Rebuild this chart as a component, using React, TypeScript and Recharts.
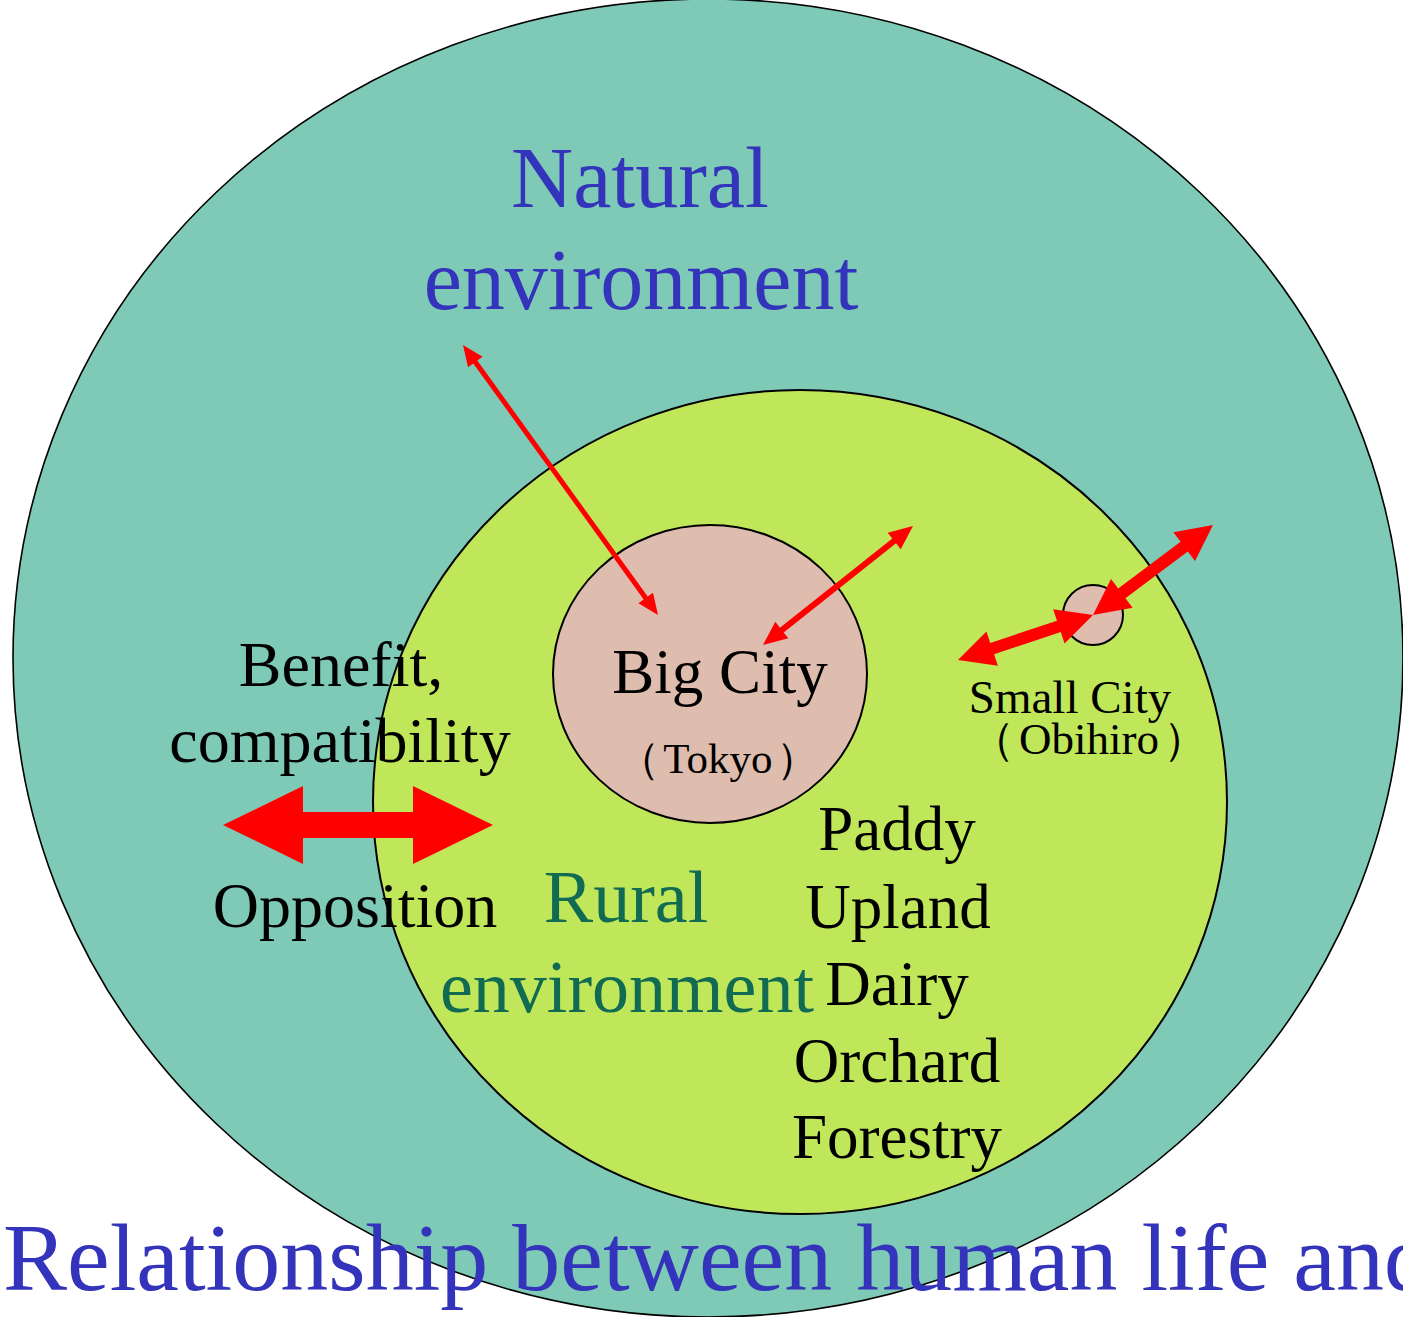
import React from 'react';
import { ScatterChart, Scatter, XAxis, YAxis, ReferenceArea, ReferenceLine } from 'recharts';

const WIDTH = 1403;
const HEIGHT = 1317;

// Regions (ellipses) in diagram coordinates: centre and radii
const regions = [
  { name: 'Natural environment', cx: 708, cy: 658, rx: 695, ry: 659 },
  { name: 'Rural environment', cx: 800, cy: 802, rx: 427, ry: 412 },
  { name: 'Big City', cx: 710, cy: 674, rx: 157, ry: 149 },
  { name: 'Small City', cx: 1093, cy: 615, rx: 30, ry: 30 },
];
const regionFills = ['#7FCAB7', '#C0E65A', '#DEBCAE', '#DEBCAE'];
const regionStrokeWidths = [1.6, 2, 2, 2];

// Double-headed arrows: end points
const arrows = [
  { name: 'nature-bigcity', x1: 463, y1: 345, x2: 658, y2: 615 },
  { name: 'bigcity-out', x1: 763, y1: 645, x2: 913, y2: 526 },
  { name: 'smallcity-rural', x1: 958, y1: 660, x2: 1093, y2: 615 },
  { name: 'smallcity-out', x1: 1093, y1: 615, x2: 1213, y2: 525 },
  { name: 'opposition', x1: 223, y1: 825, x2: 493, y2: 825 },
];
// shaft width, head length, head width per arrow
const arrowStyles = [
  { shaft: 5, headLen: 21, headW: 18 },
  { shaft: 6, headLen: 24, headW: 21 },
  { shaft: 12, headLen: 36, headW: 36 },
  { shaft: 12, headLen: 36, headW: 36 },
  { shaft: 26, headLen: 80, headW: 78 },
];

// Text labels: content and anchor point (baseline)
const naturalLabels = [
  { text: 'Natural', x: 640, y: 207 },
  { text: 'environment', x: 641, y: 309 },
];
const ruralLabels = [
  { text: 'Rural', x: 626, y: 922 },
  { text: 'environment', x: 627, y: 1012 },
];
const relationLabels = [
  { text: 'Benefit,', x: 341, y: 686 },
  { text: 'compatibility', x: 340, y: 762 },
  { text: 'Opposition', x: 355, y: 927 },
];
const bigCityLabels = [{ text: 'Big City', x: 720, y: 693 }];
const tokyoLabels = [{ text: '（Tokyo）', x: 718, y: 773 }];
const smallCityLabels = [{ text: 'Small City', x: 1070, y: 713 }];
const obihiroLabels = [{ text: '（Obihiro）', x: 1089, y: 754 }];
const landUseLabels = [
  { text: 'Paddy', x: 897, y: 850 },
  { text: 'Upland', x: 898, y: 928 },
  { text: 'Dairy', x: 897, y: 1005 },
  { text: 'Orchard', x: 897, y: 1082 },
  { text: 'Forestry', x: 897, y: 1158 },
];
const titleLabels = [{ text: 'Relationship between human life and natural environment', x: 3, y: 1290 }];

const SERIF = '"Liberation Serif", "Times New Roman", serif';

// Full-width brackets are placed in their own runs, with a little side spacing
function renderRuns(text: string, fontSize: number) {
  const chars = Array.from(text);
  if (!chars.some((c) => c === '（' || c === '）')) return text;
  const gap = fontSize * 0.08;
  const runs: { s: string; dx: number }[] = [];
  chars.forEach((ch, i) => {
    const prev = chars[i - 1];
    const isBracket = ch === '（' || ch === '）';
    const prevBracket = prev === '（';
    const last = runs[runs.length - 1];
    if (isBracket || prevBracket || !last) {
      runs.push({ s: ch, dx: ch === '）' || prevBracket ? gap : 0 });
    } else {
      last.s += ch;
    }
  });
  return runs.map((r, i) => (
    <tspan key={i} dx={r.dx || undefined}>
      {r.s}
    </tspan>
  ));
}

function makeTextShape(fontSize: number, color: string, anchor: 'middle' | 'start' = 'middle') {
  return (props: any) => {
    const { cx, cy, payload } = props;
    if (cx == null || cy == null) return <g />;
    return (
      <text x={cx} y={cy} textAnchor={anchor} fontFamily={SERIF} fontSize={fontSize} fill={color}>
        {renderRuns(payload.text, fontSize)}
      </text>
    );
  };
}

function makeEllipseShape(fill: string, strokeWidth: number) {
  return (props: any) => {
    const { x, y, width, height } = props;
    return (
      <ellipse
        cx={x + width / 2}
        cy={y + height / 2}
        rx={Math.abs(width) / 2}
        ry={Math.abs(height) / 2}
        fill={fill}
        stroke="#000"
        strokeWidth={strokeWidth}
      />
    );
  };
}

function makeArrowShape(shaft: number, headLen: number, headW: number) {
  return (props: any) => {
    const { x1, y1, x2, y2 } = props;
    if ([x1, y1, x2, y2].some((v) => v == null || isNaN(v))) return <g />;
    const dx = x2 - x1;
    const dy = y2 - y1;
    const len = Math.hypot(dx, dy) || 1;
    const ux = dx / len;
    const uy = dy / len;
    const nx = -uy;
    const ny = ux;
    const p = (bx: number, by: number, along: number, side: number) =>
      `${bx + ux * along + nx * side},${by + uy * along + ny * side}`;
    const pts = [
      p(x1, y1, 0, 0),
      p(x1, y1, headLen, headW / 2),
      p(x1, y1, headLen, shaft / 2),
      p(x2, y2, -headLen, shaft / 2),
      p(x2, y2, -headLen, headW / 2),
      p(x2, y2, 0, 0),
      p(x2, y2, -headLen, -headW / 2),
      p(x2, y2, -headLen, -shaft / 2),
      p(x1, y1, headLen, -shaft / 2),
      p(x1, y1, headLen, -headW / 2),
    ].join(' ');
    return <polygon points={pts} fill="#FF0000" stroke="none" />;
  };
}

export default function App() {
  return (
    <div
      style={{
        position: 'absolute',
        left: 0,
        top: 0,
        width: WIDTH,
        height: HEIGHT,
        overflow: 'hidden',
        background: '#fff',
      }}
    >
      <ScatterChart width={WIDTH} height={HEIGHT} margin={{ top: 0, right: 0, bottom: 0, left: 0 }}>
        <XAxis type="number" dataKey="x" domain={[0, WIDTH]} hide allowDataOverflow />
        <YAxis type="number" dataKey="y" domain={[0, HEIGHT]} reversed hide allowDataOverflow />
        {regions.map((r, i) => (
          <ReferenceArea
            key={r.name}
            x1={r.cx - r.rx}
            x2={r.cx + r.rx}
            y1={r.cy - r.ry}
            y2={r.cy + r.ry}
            ifOverflow="visible"
            shape={makeEllipseShape(regionFills[i], regionStrokeWidths[i])}
          />
        ))}
        {arrows.map((a, i) => (
          <ReferenceLine
            key={a.name}
            segment={[
              { x: a.x1, y: a.y1 },
              { x: a.x2, y: a.y2 },
            ]}
            ifOverflow="visible"
            shape={makeArrowShape(arrowStyles[i].shaft, arrowStyles[i].headLen, arrowStyles[i].headW)}
          />
        ))}
        <Scatter data={naturalLabels} isAnimationActive={false} shape={makeTextShape(86, '#3333BB')} />
        <Scatter data={ruralLabels} isAnimationActive={false} shape={makeTextShape(74, '#106B52')} />
        <Scatter data={relationLabels} isAnimationActive={false} shape={makeTextShape(64, '#000')} />
        <Scatter data={bigCityLabels} isAnimationActive={false} shape={makeTextShape(63, '#000')} />
        <Scatter data={tokyoLabels} isAnimationActive={false} shape={makeTextShape(43, '#000')} />
        <Scatter data={smallCityLabels} isAnimationActive={false} shape={makeTextShape(47, '#000')} />
        <Scatter data={obihiroLabels} isAnimationActive={false} shape={makeTextShape(45, '#000')} />
        <Scatter data={landUseLabels} isAnimationActive={false} shape={makeTextShape(63, '#000')} />
        <Scatter data={titleLabels} isAnimationActive={false} shape={makeTextShape(96, '#3333BB', 'start')} />
      </ScatterChart>
    </div>
  );
}
